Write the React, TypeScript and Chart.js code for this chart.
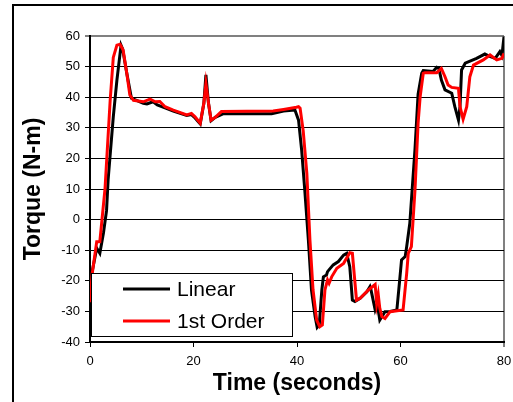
import React, { useEffect, useRef } from 'react';
import { Chart, registerables } from 'chart.js';

Chart.register(...registerables);

// ---- Data ----
const linearTime = [
  0, 0.3, 1.0, 1.3, 1.9, 2.6, 3.2, 3.5, 4.5, 5.2, 6.0, 6.3, 7.1, 8.0, 10.3, 11.0, 12.2, 13.0,
  14.5, 16.1, 18.7, 19.6, 20.3, 21.3, 22.0, 22.4, 22.9, 23.4, 24.2, 25.8, 30.9, 35.1, 37.4,
  39.6, 40.3, 40.9, 41.5, 42.2, 42.8, 43.5, 43.9, 44.3, 44.8, 45.1, 45.7, 45.9, 47.0, 48.0,
  49.0, 49.6, 50.2, 50.7, 51.2, 52.2, 53.5, 54.1, 54.3, 55.1, 55.5, 56.0, 57.0, 58.0, 59.3,
  59.9, 60.2, 60.9, 61.2, 61.8, 62.8, 63.4, 64.1, 64.4, 66.3, 67.0, 67.4, 67.9, 68.6, 69.9,
  70.5, 71.2, 71.5, 71.8, 72.5, 74.7, 76.3, 77.0, 78.3, 79.2, 79.6, 80.0,
];
const linearTorque = [
  -30, -18, -12, -9.3, -11, -4.4, 3, 13, 33.6, 45.6, 57, 55.8, 47.9, 39.7, 38, 37.8, 38.5, 37.5,
  36.5, 35.5, 34, 34.3, 33.2, 31.3, 38, 47.3, 38, 32.3, 33.4, 34.6, 34.6, 34.6, 35.5,
  35.8, 32.5, 22.7, 9.7, -6.7, -23, -31.7, -35.2, -34.4, -23, -18.7, -18.1, -17, -14.8, -13.7,
  -11.6, -11, -15.4, -26.3, -26.8, -25.7, -23.6, -21.9, -23, -29.5, -27.5, -32.8, -30.1, -30, -29.5,
  -18.7, -13.2, -12.1, -8.8, -1.2, 23, 41, 47.8, 48.7, 48.4, 49.8, 49.5, 45.6, 42.4, 41.3,
  36.9, 32.5, 36.9, 48.9, 51.1, 52.7, 54.1, 53.5, 52.7, 54.9, 53.6, 59.8,
];

const firstOrderTime = [
  0, 0.4, 1.3, 1.9, 2.9, 3.9, 4.5, 5.2, 5.8, 6.4, 7.1, 7.7, 8.4, 10.3, 11.6, 12.6, 13.5, 14.5,
  16.1, 18.7, 19.6, 20.3, 21.3, 22.0, 22.4, 22.9, 23.4, 24.2, 25.4, 35.4, 37.4, 39.9, 40.3,
  40.6, 41.2, 41.9, 42.5, 43.1, 43.8, 44.4, 44.9, 45.4, 45.9, 46.2, 46.7, 47.7, 49.0, 50.2,
  50.7, 51.5, 52.2, 53.8, 55.1, 55.4, 55.7, 56.0, 56.4, 57.0, 58.0, 60.5, 61.2, 61.5, 62.1,
  62.8, 63.4, 63.8, 64.4, 64.7, 67.0, 67.9, 68.6, 69.2, 69.9, 71.2, 71.5, 72.1, 72.8, 73.4,
  74.1, 76.0, 77.3, 78.6, 79.6, 80.0,
];
const firstOrderTorque = [
  -27, -18, -7.2, -7.2, 10, 39, 53, 57, 57.3, 55.4, 47.9, 40.7, 39, 38.5, 39.4, 38.5, 38.6, 36.9,
  35.8, 34.2, 34.7, 33.6, 31.5, 38, 44.5, 38, 32.5, 33.4, 35.3, 35.5, 36.0, 36.7, 36.9,
  36.4, 29, 15.1, -6.7, -23, -32.8, -35, -34.4, -23, -19.7, -20.8, -18.7, -15.9, -14.3, -10.8,
  -11, -26.3, -25.7, -23, -21.2, -27.5, -24.5, -29, -31.7, -32.3, -30.1, -29.5, -17.5, -11, -8.8,
  9.7, 31.5, 40.2, 47.8, 48, 48, 49.4, 46.7, 44, 43.2, 42.9, 36.9, 32.8, 36.9, 46.7,
  50.5, 52.2, 53.8, 52.2, 52.7, 54.3,
];

const seriesNames = ['Linear', '1st Order'];
const seriesColors = ['#000000', '#ff0000'];
const xAxisTitle = 'Time (seconds)';
const yAxisTitle = 'Torque (N-m)';
const xMin = 0, xMax = 80, xStep = 20;
const yMin = -40, yMax = 60, yStep = 10;

const FONT = "'Liberation Sans', Arial, sans-serif";

const boxLegend = {
  id: 'boxLegend',
  afterDraw(chart: any) {
    const ctx = chart.ctx;
    const left = 91, top = 273, right = 293, bottom = 337;
    ctx.save();
    ctx.fillStyle = '#ffffff';
    ctx.fillRect(left, top, right - left, bottom - top);
    ctx.strokeStyle = '#000000';
    ctx.lineWidth = 1;
    ctx.strokeRect(left + 0.5, top + 0.5, right - left - 1, bottom - top - 1);
    const rows = [289, 321];
    seriesNames.forEach((name, i) => {
      ctx.strokeStyle = seriesColors[i];
      ctx.lineWidth = 3;
      ctx.beginPath();
      ctx.moveTo(123, rows[i]);
      ctx.lineTo(170, rows[i]);
      ctx.stroke();
      ctx.fillStyle = '#000000';
      ctx.font = `21px ${FONT}`;
      ctx.textBaseline = 'middle';
      ctx.textAlign = 'left';
      ctx.fillText(name, 177, rows[i] + 1.5);
    });
    ctx.restore();
  },
};

export default function App() {
  const canvasRef = useRef<HTMLCanvasElement | null>(null);

  useEffect(() => {
    const canvas = canvasRef.current;
    if (!canvas) return;
    const chart = new Chart(canvas, {
      type: 'line',
      data: {
        datasets: [
          {
            label: seriesNames[0],
            data: linearTime.map((t, i) => ({ x: t, y: linearTorque[i] })),
            borderColor: seriesColors[0],
            borderWidth: 3,
            pointRadius: 0,
            tension: 0,
            order: 2,
          },
          {
            label: seriesNames[1],
            data: firstOrderTime.map((t, i) => ({ x: t, y: firstOrderTorque[i] })),
            borderColor: seriesColors[1],
            borderWidth: 3,
            pointRadius: 0,
            tension: 0,
            order: 1,
          },
        ],
      },
      options: {
        animation: false,
        responsive: false,
        maintainAspectRatio: false,
        devicePixelRatio: 1,
        layout: { padding: { left: 0, top: 36, right: 9, bottom: 0 } },
        plugins: {
          legend: { display: false },
          tooltip: { enabled: false },
        },
        scales: {
          x: {
            type: 'linear',
            min: xMin,
            max: xMax,
            afterFit: (scale: any) => {
              scale.height = 60;
              scale.paddingLeft = 0;
              scale.paddingRight = 0;
            },
            ticks: {
              stepSize: xStep,
              color: '#000',
              padding: 7,
              font: { family: FONT, size: 13 },
              maxRotation: 0,
            },
            grid: {
              drawOnChartArea: true,
              color: (c: any) => (c.tick && c.tick.value === xMax ? '#808080' : 'rgba(0,0,0,0)'),
              lineWidth: (c: any) => (c.tick && c.tick.value === xMax ? 2 : 1),
              tickColor: '#000',
              tickWidth: 1,
              tickLength: 5,
            },
            border: { display: true, color: '#000', width: 2 },
            title: {
              display: true,
              text: xAxisTitle,
              color: '#000',
              font: { family: FONT, size: 23, weight: 'bold' },
              padding: { top: 0, bottom: 5 },
            },
          },
          y: {
            type: 'linear',
            min: yMin,
            max: yMax,
            afterFit: (scale: any) => {
              scale.width = 90;
              scale.paddingTop = 0;
              scale.paddingBottom = 0;
            },
            ticks: {
              stepSize: yStep,
              color: '#000',
              padding: 5,
              font: { family: FONT, size: 13 },
            },
            grid: {
              color: (c: any) => (c.tick && c.tick.value === yMax ? '#808080' : '#000'),
              lineWidth: (c: any) => (c.tick && c.tick.value === yMax ? 2 : 1),
              tickColor: '#000',
              tickWidth: 1,
              tickLength: 5,
            },
            border: { display: true, color: '#000', width: 2 },
            title: {
              display: true,
              text: yAxisTitle,
              color: '#000',
              font: { family: FONT, size: 23, weight: 'bold' },
              padding: { top: 20, bottom: 0 },
            },
          },
        },
      },
      plugins: [boxLegend],
    } as any);
    return () => chart.destroy();
  }, []);

  return (
    <div
      style={{
        position: 'fixed',
        left: 0,
        top: 0,
        width: 513,
        height: 402,
        overflow: 'hidden',
        background: '#fff',
      }}
    >
      <div
        style={{
          position: 'absolute',
          left: 12,
          top: 4,
          width: 600,
          height: 500,
          borderLeft: '2px solid #000',
          borderTop: '2px solid #000',
        }}
      />
      <canvas
        ref={canvasRef}
        width={513}
        height={402}
        style={{ position: 'absolute', left: 0, top: 0, width: 513, height: 402 }}
      />
    </div>
  );
}
